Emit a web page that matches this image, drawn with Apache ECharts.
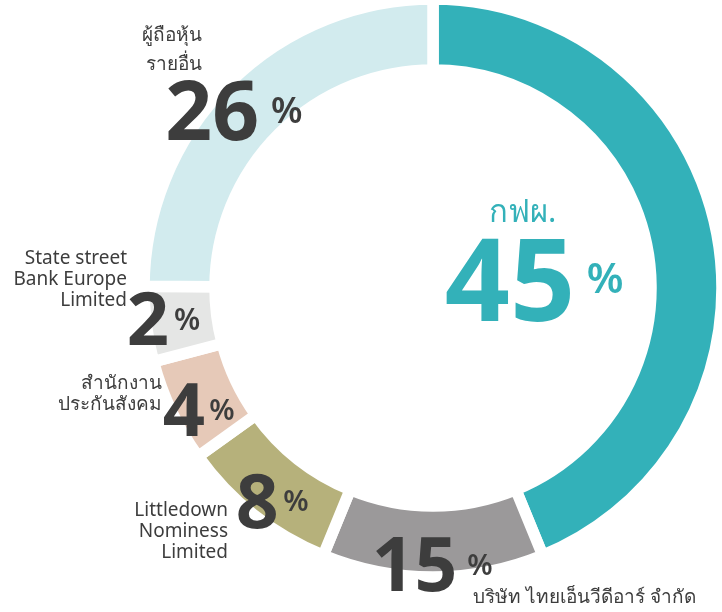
<!DOCTYPE html>
<html>
<head>
<meta charset="utf-8">
<script src="https://cdn.jsdelivr.net/npm/echarts@6/dist/echarts.min.js"></script>
<style>
html,body{margin:0;padding:0;background:#fff;}
#chart{width:722px;height:612px;}
</style>
</head>
<body>
<div id="chart"></div>
<script>
// Shareholder names (clockwise from 12 o'clock)
const names = [
  'กฟผ.',
  'บริษัท ไทยเอ็นวีดีอาร์ จำกัด',
  'Littledown\nNominess\nLimited',
  'สำนักงาน\nประกันสังคม',
  'State street\nBank Europe\nLimited',
  'ผู้ถือหุ้น\nรายอื่น'
];
// Printed percentages
const percentLabels = [45, 15, 8, 4, 2, 26];
// Arc sizes as drawn in the picture (share of the ring, %)
const arcShares = [43.8, 12.4, 8.9, 5.8, 4.2, 24.9];
const colors = ['#33b1b9', '#9b999a', '#b6b17b', '#e6c9b8', '#e5e6e5', '#d2ebee'];

// Label layout (not data)
const DARK = '#3d3d3d';
const FONT = '"Noto Sans", sans-serif';
const layout = [
  { name: { x: 489, y: 213, size: 31, align: 'left', color: '#33b1b9', lh: 32 },
    num: { x: 450, y: 278, size: 114, color: '#33b1b9' }, pct: { x: 588, y: 278, size: 42 } },
  { name: { x: 473, y: 598, size: 19, align: 'left', color: DARK, lh: 22 },
    num: { x: 375, y: 563, size: 75, color: DARK }, pct: { x: 468, y: 564, size: 29 } },
  { name: { x: 228, y: 532, size: 19, align: 'right', color: DARK, lh: 21 },
    num: { x: 239, y: 500, size: 75, color: DARK }, pct: { x: 284, y: 500, size: 29 } },
  { name: { x: 162, y: 394, size: 19, align: 'right', color: DARK, lh: 21 },
    num: { x: 166, y: 408, size: 74, color: DARK }, pct: { x: 210, y: 409, size: 29 } },
  { name: { x: 127, y: 280, size: 19, align: 'right', color: DARK, lh: 21 },
    num: { x: 130, y: 317, size: 74, color: DARK }, pct: { x: 175, y: 319, size: 30 } },
  { name: { x: 202, y: 50, size: 19, align: 'right', color: DARK, lh: 29 },
    num: { x: 169, y: 109, size: 82, color: DARK }, pct: { x: 272, y: 110, size: 36 } }
];

const graphics = [];
names.forEach((n, i) => {
  const L = layout[i];
  graphics.push({
    type: 'text', x: L.name.x, y: L.name.y, silent: true, z: 100,
    style: { text: n, fill: L.name.color, font: `normal ${L.name.size}px ${FONT}`,
             align: L.name.align, verticalAlign: 'middle', lineHeight: L.name.lh }
  });
  graphics.push({
    type: 'text', x: L.num.x - L.num.size * 0.045, y: L.num.y + L.num.size * 0.09, silent: true, z: 100,
    style: { text: String(percentLabels[i]), fill: L.num.color, font: `bold ${L.num.size}px ${FONT}`,
             align: 'left', verticalAlign: 'middle' }
  });
  graphics.push({
    type: 'text', x: L.pct.x - L.pct.size * 0.03, y: L.pct.y + L.pct.size * 0.08, silent: true, z: 100,
    style: { text: '%', fill: L.num.color, font: `600 ${L.pct.size}px ${FONT}`,
             align: 'left', verticalAlign: 'middle' }
  });
});

const chart = echarts.init(document.getElementById('chart'), null, { renderer: 'canvas' });
chart.setOption({
  animation: false,
  backgroundColor: '#ffffff',
  series: [{
    type: 'pie',
    z: 1,
    center: [433, 288],
    radius: [218, 289],
    startAngle: 90,
    clockwise: true,
    label: { show: false },
    labelLine: { show: false },
    emphasis: { disabled: true },
    itemStyle: { borderColor: '#ffffff', borderWidth: 11.5, borderJoin: 'miter' },
    data: names.map((n, i) => ({ name: n, value: arcShares[i], itemStyle: { color: colors[i] } }))
  }],
  graphic: { elements: graphics }
});
</script>
</body>
</html>
